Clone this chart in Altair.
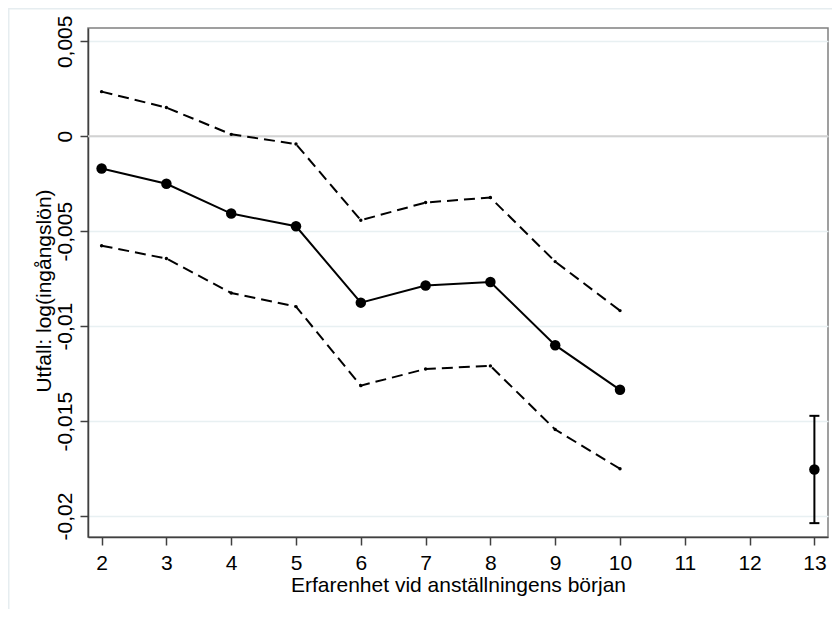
import altair as alt
import pandas as pd

# ---- data ----
experience = [2, 3, 4, 5, 6, 7, 8, 9, 10]
estimate = [-0.0017, -0.0025, -0.00407, -0.00474, -0.00876, -0.00786, -0.00767, -0.0110, -0.01335]
upper_ci = [0.00235, 0.00151, 0.0001, -0.00041, -0.00442, -0.00349, -0.00323, -0.0066, -0.00918]
lower_ci = [-0.00576, -0.00644, -0.00825, -0.00897, -0.01313, -0.01225, -0.01209, -0.01544, -0.01751]

exp_13 = [13]
est_13 = [-0.01755]
lo_13 = [-0.02037]
hi_13 = [-0.01472]

x_ticks = list(range(2, 14))
y_ticks = [-0.02, -0.015, -0.01, -0.005, 0, 0.005]

x_title = "Erfarenhet vid anställningens början"
y_title = "Utfall: log(ingångslön)"

FONT = "Liberation Sans"
W, H = 740, 509
FS = 21

df = pd.DataFrame({"exp": experience, "est": estimate, "hi": upper_ci, "lo": lower_ci})
df13 = pd.DataFrame({"exp": exp_13, "est": est_13, "lo": lo_13, "hi": hi_13})
zero_df = pd.DataFrame({"y": [0]})
frame_df = pd.DataFrame({"a": [0]})

xscale = alt.Scale(domain=[1.79, 13.21], nice=False, zero=False)
yscale = alt.Scale(domain=[-0.0211, 0.0057], nice=False, zero=False)

xaxis = alt.Axis(
    values=x_ticks, title=x_title, grid=False, format="d",
    labelFont=FONT, labelFontSize=FS, labelColor="black",
    labelBaseline="alphabetic", labelPadding=24, labelFlush=False, labelOverlap=False,
    tickSize=8, tickColor="#404040", tickWidth=1.5,
    domainColor="#404040", domainWidth=1.5,
    titleFont=FONT, titleFontSize=FS, titleFontWeight="normal", titleColor="black",
    titleBaseline="alphabetic", titleAlign="center", titleX=W / 2, titleY=54,
)
yaxis = alt.Axis(
    values=y_ticks, title=y_title, grid=True, gridColor="#e8f0f2", gridWidth=1.5,
    format=".3~f",
    labelExpr="replace(replace(datum.label, '.', ','), '\u2212', '-')",
    labelFont=FONT, labelFontSize=FS, labelColor="black",
    labelAngle=270, labelAlign="center", labelBaseline="alphabetic",
    labelPadding=9, labelFlush=False, labelOverlap=False,
    tickSize=8, tickColor="#404040", tickWidth=1.5,
    domainColor="#404040", domainWidth=1.5,
    titleFont=FONT, titleFontSize=FS, titleFontWeight="normal", titleColor="black",
    titleAngle=270, titleBaseline="alphabetic", titleAlign="center",
    titleX=-38, titleY=H / 2 + 8,
)


def X(field):
    return alt.X(f"{field}:Q", scale=xscale, axis=xaxis)


def Y(field):
    return alt.Y(f"{field}:Q", scale=yscale, axis=yaxis)


frame = alt.Chart(frame_df).mark_rect(
    fill="transparent", stroke="#e6edf0", strokeWidth=1.5, clip=False
).encode(x=alt.value(-79.25), x2=alt.value(900), y=alt.value(-19.25), y2=alt.value(800))

zero = alt.Chart(zero_df).mark_rule(color="#d2d2d2", strokeWidth=2).encode(y=Y("y"))

upper = alt.Chart(df).mark_line(
    color="black", strokeWidth=2, strokeDash=[11, 6],
    point=alt.OverlayMarkDef(filled=True, color="black", size=12, opacity=1),
).encode(x=X("exp"), y=Y("hi"))

lower = alt.Chart(df).mark_line(
    color="black", strokeWidth=2, strokeDash=[11, 6],
    point=alt.OverlayMarkDef(filled=True, color="black", size=12, opacity=1),
).encode(x=X("exp"), y=Y("lo"))

main = alt.Chart(df).mark_line(
    color="black", strokeWidth=2,
    point=alt.OverlayMarkDef(filled=True, color="black", size=110, opacity=1),
).encode(x=X("exp"), y=Y("est"))

err_rule = alt.Chart(df13).mark_rule(color="black", strokeWidth=2).encode(
    x=X("exp"), y=Y("lo"), y2="hi:Q"
)
cap_lo = alt.Chart(df13).mark_tick(color="black", orient="horizontal", size=10, thickness=2, opacity=1).encode(
    x=X("exp"), y=Y("lo")
)
cap_hi = alt.Chart(df13).mark_tick(color="black", orient="horizontal", size=10, thickness=2, opacity=1).encode(
    x=X("exp"), y=Y("hi")
)
pt13 = alt.Chart(df13).mark_point(filled=True, color="black", size=110, opacity=1).encode(
    x=X("exp"), y=Y("est")
)

chart = alt.layer(
    frame, zero, upper, lower, main, err_rule, cap_lo, cap_hi, pt13
).properties(
    width=W, height=H,
    autosize=alt.AutoSizeParams(type="none"),
    padding={"left": 80, "top": 20, "right": 4, "bottom": 72},
    background="white",
).configure_view(
    stroke="#808080", strokeWidth=1.5
)

chart.save("out.html", embed_options={"renderer": "svg", "actions": False})
